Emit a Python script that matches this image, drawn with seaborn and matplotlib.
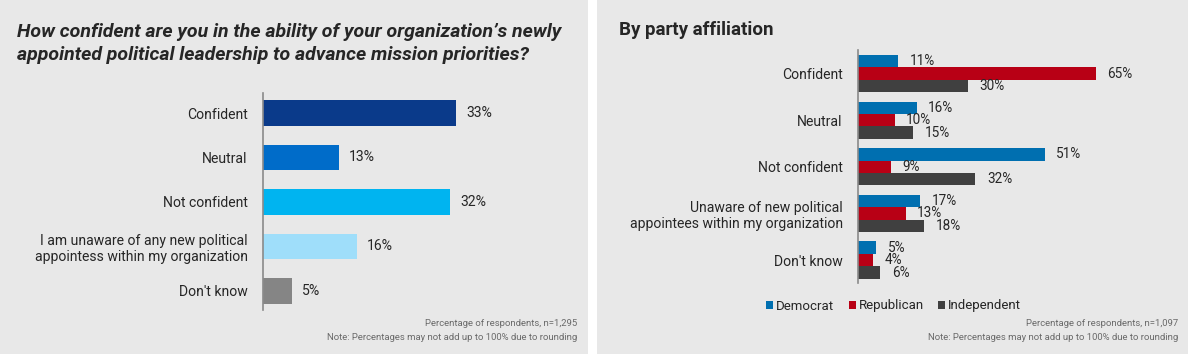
import matplotlib
matplotlib.use("Agg")
import matplotlib.pyplot as plt
from matplotlib.patches import Rectangle
import seaborn as sns
import pandas as pd

# data
categories_left = ["Confident", "Neutral", "Not confident",
                   "I am unaware of any new political\nappointess within my organization",
                   "Don't know"]
values_left = [33, 13, 32, 16, 5]
colors_left = ["#0a3a8a", "#006cc9", "#00b4f0", "#9fdefa", "#858585"]

categories_right = ["Confident", "Neutral", "Not confident",
                    "Unaware of new political\nappointees within my organization",
                    "Don't know"]
parties = ["Democrat", "Republican", "Independent"]
democrat = [11, 16, 51, 17, 5]
republican = [65, 10, 9, 13, 4]
independent = [30, 15, 32, 18, 6]
colors_right = ["#006fb0", "#b80015", "#404040"]

W, H = 1188, 354
BG = "#e8e8e8"
TXT = "#262626"

def px(v):
    return v * 0.72

sns.set_theme(style="white")
plt.rcParams['font.family'] = ['Roboto', 'DejaVu Sans']

fig = plt.figure(figsize=(W / 100, H / 100), dpi=100, facecolor="white")
fig.patches.append(Rectangle((0, 0), 588 / W, 1, transform=fig.transFigure,
                             facecolor=BG, edgecolor="none", zorder=-10))
fig.patches.append(Rectangle((597 / W, 0), 1 - 597 / W, 1, transform=fig.transFigure,
                             facecolor=BG, edgecolor="none", zorder=-10))

def box(l, t, r, b):
    return [l / W, 1 - b / H, (r - l) / W, (b - t) / H]

# ---- left panel ----
ax1 = fig.add_axes(box(263, 93, 263 + 5.85 * 50, 310))
df_l = pd.DataFrame({"cat": categories_left, "val": values_left})
sns.barplot(data=df_l, y="cat", x="val", hue="cat", palette=colors_left,
            orient="h", width=0.57, legend=False, ax=ax1, saturation=1, linewidth=0)
ax1.set_xlim(0, 50)
ax1.set_ylim(4.43, -0.45)
for i, v in enumerate(values_left):
    ax1.text(v + 1.7, i, f"{v}%", va="center", ha="left", fontsize=px(14), color=TXT)

# ---- right panel ----
ax2 = fig.add_axes(box(858, 50, 858 + 3.66 * 80, 283))
df_r = pd.DataFrame({
    "cat": categories_right * 3,
    "party": [p for p in parties for _ in categories_right],
    "val": democrat + republican + independent,
})
sns.barplot(data=df_r, y="cat", x="val", hue="party", hue_order=parties,
            palette=colors_right, orient="h", width=0.8, ax=ax2, saturation=1, linewidth=0)
ax2.set_xlim(0, 80)
ax2.set_ylim(4.49, -0.504)
for cont in ax2.containers:
    for bar in cont:
        w = bar.get_width()
        ax2.text(w + 3.2, bar.get_y() + bar.get_height() / 2, f"{w:.0f}%",
                 va="center", ha="left", fontsize=px(13.5), color=TXT)

handles, labels = ax2.get_legend_handles_labels()
ax2.legend_.remove()
fig.legend(handles, labels, loc="center left", bbox_to_anchor=(766 / W, 1 - 306 / H),
           ncol=3, frameon=False, fontsize=px(13.2), handlelength=0.55, handleheight=0.55,
           handletextpad=0.2, columnspacing=1.1, labelcolor=TXT,
           borderpad=0, borderaxespad=0)

for ax in (ax1, ax2):
    ax.set_facecolor("none")
    ax.set_xlabel("")
    ax.set_ylabel("")
    ax.set_xticks([])
    for s in ("top", "right", "bottom"):
        ax.spines[s].set_visible(False)
    ax.spines["left"].set_color("#8a8a8a")
    ax.spines["left"].set_linewidth(1.2)
    ax.tick_params(axis="y", length=0, pad=11, labelsize=px(14), labelcolor=TXT)

# titles
fig.text(17 / W, 1 - 43.5 / H,
         "How confident are you in the ability of your organization\u2019s newly\n"
         "appointed political leadership to advance mission priorities?",
         fontsize=px(19.5), fontweight="bold", style="italic", color=TXT,
         va="center", ha="left", linespacing=1.35)
fig.text(619 / W, 1 - 30 / H, "By party affiliation", fontsize=px(18.8),
         fontweight="bold", color=TXT, va="center", ha="left")

# footnotes
for xr in (577, 1178):
    n = "1,295" if xr == 577 else "1,097"
    fig.text(xr / W, 1 - 324 / H, f"Percentage of respondents, n={n}",
             fontsize=px(9.5), color="#6a6a6a", ha="right", va="center")
    fig.text(xr / W, 1 - 337 / H,
             "Note: Percentages may not add up to 100% due to rounding",
             fontsize=px(9.5), color="#6a6a6a", ha="right", va="center")

fig.savefig("out.png", dpi=100, facecolor="white")
